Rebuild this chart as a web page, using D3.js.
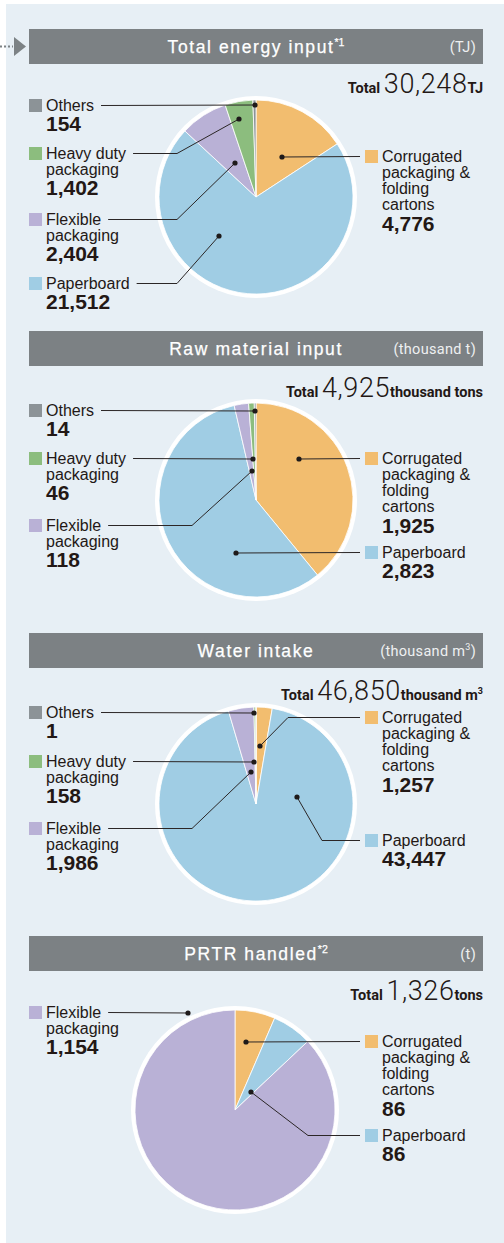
<!DOCTYPE html>
<html lang="en">
<head>
<meta charset="UTF-8">
<title>Inputs by business</title>
<style>
  body { margin: 0; background: #fff; }
  svg { display: block; }
</style>
</head>
<body>
<script src="https://d3js.org/d3.v7.min.js"></script>
<script>
  // data
  const categories = ["Corrugated packaging & folding cartons", "Paperboard", "Flexible packaging", "Heavy duty packaging", "Others"];
  const energyValues = [4776, 21512, 2404, 1402, 154];
  const rawValues = [1925, 2823, 118, 46, 14];
  const waterValues = [1257, 43447, 1986, 158, 1];
  const prtrCategories = ["Corrugated packaging & folding cartons", "Paperboard", "Flexible packaging"];
  const prtrValues = [86, 86, 1154];
  const titles = ["Total energy input", "Raw material input", "Water intake", "PRTR handled"];
  const titleNotes = ["*1", "", "", "*2"];
  const headerUnits = ["(TJ)", "(thousand t)", "(thousand m|3|)", "(t)"];
  const totals = [30248, 4925, 46850, 1326];
  const totalUnits = ["TJ", "thousand tons", "thousand m|3", "tons"];

  const colors = {
    "Corrugated packaging & folding cartons": "#f2bd6f",
    "Paperboard": "#a0cde4",
    "Flexible packaging": "#b9b1d6",
    "Heavy duty packaging": "#8cbd7e",
    "Others": "#8c9397"
  };
  const labelLines = {
    "Corrugated packaging & folding cartons": ["Corrugated", "packaging &", "folding", "cartons"],
    "Paperboard": ["Paperboard"],
    "Flexible packaging": ["Flexible", "packaging"],
    "Heavy duty packaging": ["Heavy duty", "packaging"],
    "Others": ["Others"]
  };

  const width = 504, height = 1243;
  const ink = "#231815";
  const fmt = d3.format(",");

  // layout of each panel (header top, pie centre, label anchors)
  const charts = [
    { cats: categories, values: energyValues, top: 29, totalY: 93, cx: 256, cy: 197, r: 97,
      labels: [
        { side: "R", sy: 150, dot: [282, 157] },
        { side: "L", sy: 277, bend: 177, dot: [219, 236] },
        { side: "L", sy: 213, bend: 177, dot: [235, 163] },
        { side: "L", sy: 147, bend: 177, dot: [239, 119] },
        { side: "L", sy: 99, dot: [255, 105] }
      ] },
    { cats: categories, values: rawValues, top: 331, totalY: 397, cx: 256, cy: 500, r: 97,
      labels: [
        { side: "R", sy: 452, dot: [299, 459] },
        { side: "R", sy: 546, dot: [236, 553] },
        { side: "L", sy: 519, bend: 192, dot: [252, 471] },
        { side: "L", sy: 452, dot: [253, 459] },
        { side: "L", sy: 404, dot: [255, 411] }
      ] },
    { cats: categories, values: waterValues, top: 633, totalY: 700, cx: 256, cy: 804, r: 97,
      labels: [
        { side: "R", sy: 711, bend: 288, dot: [260, 746] },
        { side: "R", sy: 834, bend: 322, dot: [297, 797] },
        { side: "L", sy: 822, bend: 192, dot: [251, 772] },
        { side: "L", sy: 755, dot: [254, 762] },
        { side: "L", sy: 706, dot: [254, 713] }
      ] },
    { cats: prtrCategories, values: prtrValues, top: 936, totalY: 1000, cx: 235, cy: 1110, r: 100,
      labels: [
        { side: "R", sy: 1035, dot: [246, 1042] },
        { side: "R", sy: 1129, bend: 308, dot: [251, 1092] },
        { side: "L", sy: 1006, dot: [188, 1013] }
      ] }
  ];

  const svg = d3.select("body").append("svg")
    .attr("width", width)
    .attr("height", height)
    .style("font-family", "'Liberation Sans', Arial, sans-serif");

  svg.append("rect")
    .attr("x", 6).attr("y", 4)
    .attr("width", width - 6).attr("height", height - 4)
    .attr("fill", "#e7eff5");

  // arrow coming in from the left
  svg.append("line")
    .attr("x1", 0).attr("x2", 13).attr("y1", 46.5).attr("y2", 46.5)
    .attr("stroke", "#7c8285").attr("stroke-width", 2)
    .attr("stroke-dasharray", "2,2");
  svg.append("path")
    .attr("d", "M14,37 L26,46.5 L14,56 Z")
    .attr("fill", "#7c8285");

  const pie = d3.pie().sort(null).value(d => d.value);
  const line = d3.line();

  function addSup(textSel, str, size) {
    str.split("|").forEach((part, i) => {
      if (!part) return;
      const t = textSel.append("tspan").text(part);
      if (i === 1) t.attr("font-size", size).attr("dy", -6);
      if (i === 2) t.attr("dy", 6);
    });
  }

  charts.forEach((c, ci) => {
    const g = svg.append("g");

    // header bar
    g.append("rect")
      .attr("x", 29).attr("y", c.top)
      .attr("width", 454).attr("height", 35)
      .attr("fill", "#7c8184");
    const title = g.append("text")
      .attr("x", 256).attr("y", c.top + 24)
      .attr("text-anchor", "middle")
      .attr("fill", "#fff")
      .attr("font-family", "'Liberation Sans', Arial, sans-serif")
      .attr("font-weight", 400)
      .attr("font-size", 17.5)
      .attr("letter-spacing", 1.6)
      .attr("stroke", "#fff")
      .attr("stroke-width", 0.25)
      .text(titles[ci]);
    if (titleNotes[ci]) {
      title.append("tspan")
        .attr("font-size", 10.5).attr("dy", -7).attr("letter-spacing", 0)
        .text(titleNotes[ci]);
    }
    const hu = g.append("text")
      .attr("x", 476).attr("y", c.top + 23)
      .attr("text-anchor", "end")
      .attr("fill", "#eef0f1")
      .attr("font-family", "Roboto, sans-serif")
      .attr("font-size", 14.5)
      .attr("letter-spacing", 0.3);
    addSup(hu, headerUnits[ci], 9);

    // total
    const tot = g.append("text")
      .attr("x", 483).attr("y", c.totalY)
      .attr("text-anchor", "end")
      .attr("fill", ink)
      .attr("font-family", "Roboto, sans-serif");
    tot.append("tspan").attr("font-weight", 700).attr("font-size", 14.5).text("Total ");
    tot.append("tspan").attr("font-weight", 300).attr("font-size", 27)
      .attr("letter-spacing", 0.6).text(fmt(totals[ci]));
    const unitSpan = tot.append("tspan").attr("font-weight", 700).attr("font-size", 14.5);
    const up = totalUnits[ci].split("|");
    unitSpan.text(up[0]);
    if (up[1]) {
      tot.append("tspan").attr("font-weight", 700).attr("font-size", 9)
        .attr("dy", -6).text(up[1]);
    }

    // pie
    const data = c.cats.map((k, i) => ({ key: k, value: c.values[i] }));
    const arcs = pie(data);
    const arc = d3.arc().innerRadius(0).outerRadius(c.r);
    const pg = g.append("g").attr("transform", `translate(${c.cx},${c.cy})`);
    pg.append("circle").attr("r", c.r + 4).attr("fill", "#fff");
    pg.selectAll("path")
      .data(arcs)
      .join("path")
      .attr("d", arc)
      .attr("fill", d => colors[d.data.key])
      .attr("stroke", "#fff")
      .attr("stroke-width", 0.8);

    // labels
    c.labels.forEach((lb, i) => {
      const key = c.cats[i];
      const lines = labelLines[key];
      const sx = lb.side === "L" ? 29 : 365;
      const tx = sx + 17;
      g.append("rect")
        .attr("x", sx).attr("y", lb.sy)
        .attr("width", 13).attr("height", 13)
        .attr("fill", colors[key]);
      const nameText = g.append("text")
        .attr("fill", ink)
        .attr("font-size", 16);
      lines.forEach((s, j) => {
        nameText.append("tspan")
          .attr("x", tx)
          .attr("y", lb.sy + 11.5 + j * 16.3)
          .text(s);
      });
      const lastY = lb.sy + 11.5 + (lines.length - 1) * 16.3;
      g.append("text")
        .attr("x", tx).attr("y", lastY + 20.5)
        .attr("fill", ink)
        .attr("font-size", 21)
        .attr("font-weight", 700)
        .text(fmt(c.values[i]));

      // leader line
      const ly = lb.sy + 6.5;
      let pts;
      if (lb.side === "L") {
        const firstW = nameText.select("tspan").node().getComputedTextLength();
        const x0 = tx + firstW + 7;
        pts = [[x0, ly]];
        if (lb.bend) pts.push([lb.bend, ly]);
        pts.push(lb.dot);
      } else {
        pts = [[sx - 5, ly]];
        if (lb.bend) pts.push([lb.bend, ly]);
        pts.push(lb.dot);
      }
      g.append("path")
        .attr("d", line(pts))
        .attr("fill", "none")
        .attr("stroke", "#2b2626")
        .attr("stroke-width", 1);
      g.append("circle")
        .attr("cx", lb.dot[0]).attr("cy", lb.dot[1])
        .attr("r", 2.6)
        .attr("fill", "#1e1a1a");
    });
  });
</script>
</body>
</html>
